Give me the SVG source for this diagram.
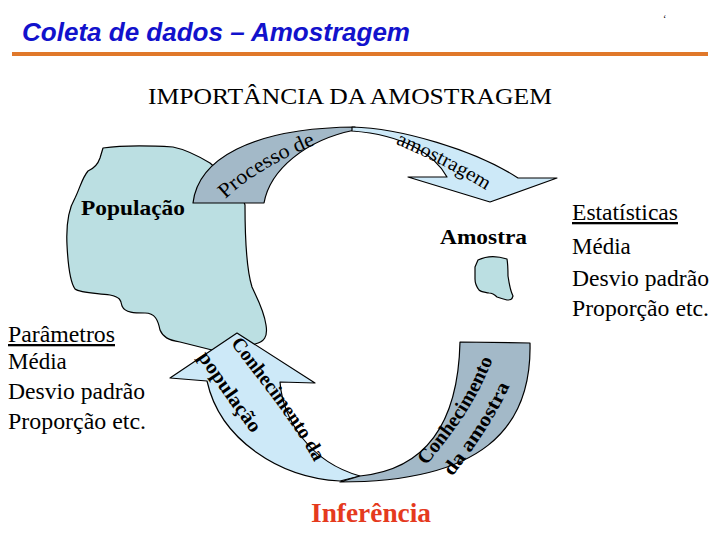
<svg xmlns="http://www.w3.org/2000/svg" width="720" height="540" viewBox="0 0 720 540">
<style>
.serif{font-family:"Liberation Serif","Times New Roman",serif;fill:#000}
.b{font-weight:bold}
.sh{stroke:#000;stroke-width:1.2;stroke-linejoin:round}
.blob{fill:#BBDFE2}
.lb{fill:#CDE9F8}
.gr{fill:#A3B9C8}
.list{font-size:23px}
</style>
<defs>
<path id="pProc" d="M213,212 Q250,168 335,137"/>
<path id="pAmo" d="M388,141 Q440,161 492,194"/>
<path id="pCon1" d="M228,340 C263,387 298,427 322,477"/>
<path id="pPop" d="M195,353 C213,379 236,413 262,447"/>
<path id="pCon2" d="M424,469 C445,441 478,407 498,344"/>
<path id="pDa" d="M450,480 C469,454 499,417 517,368"/>
</defs>
<rect width="720" height="540" fill="#fff"/>
<g id="title">
<text x="22" y="41" font-family="'Liberation Sans',Arial,sans-serif" font-size="26" font-weight="bold" font-style="italic" fill="#1212CC" textLength="388" lengthAdjust="spacingAndGlyphs">Coleta de dados – Amostragem</text>
<rect x="12" y="52" width="696" height="4" fill="#E0782A"/>
<text x="663" y="22" class="serif" font-size="10">‘</text>
</g>
<text x="350" y="104" class="serif" font-size="23" text-anchor="middle" textLength="404" lengthAdjust="spacingAndGlyphs">IMPORTÂNCIA DA AMOSTRAGEM</text>
<g id="population">
<path class="blob sh" d="M103,148 C125,145 155,146 173,147 C188,150 200,157 210,163 L240,190 L245,205 C245,235 246,268 252,287 C256,296 264,310 266,325 C268,337 264,342 255,344 L212,350 C200,347 188,344 180,342 C168,340 163,337 160,330 C158,320 155,313 145,313 C135,313 125,313 122,306 C121,300 120,297 110,295 C95,293 80,293 75,289 C70,282 68,265 67,245 C66,225 68,210 75,198 C80,188 82,178 88,171 C95,168 98,164 100,158 Z"/>
<text x="81" y="215" class="serif b" font-size="22" textLength="104" lengthAdjust="spacingAndGlyphs">População</text>
</g>
<g id="sample">
<path class="blob sh" d="M478,260 C488,255 498,256 507,259 C508,265 508,270 508,276 C509,283 510,290 513,296 C512,300 510,300 507,300 C503,299 500,298 497,297 C494,294 492,293 489,293 C485,292 481,292 479,290 C476,286 475,283 475,279 L475,267 Z"/>
<text x="440" y="244" class="serif b" font-size="22" textLength="87" lengthAdjust="spacingAndGlyphs">Amostra</text>
</g>
<g id="connectors">
<g id="arrow-processo">
<path class="gr sh" d="M193,203 C198,160 250,128 355,127 L355,130 C305,140 270,170 264,203 Z"/>
<text class="serif" font-size="21"><textPath href="#pProc" startOffset="18" textLength="106" lengthAdjust="spacingAndGlyphs">Processo de</textPath></text>
</g>
<g id="arrow-amostragem">
<path class="lb sh" d="M352,127 C400,128 475,150 518,178 L557,178 L490,202 L408,177 L447,177 C435,155 405,135 352,131 Z"/>
<text class="serif" font-size="20"><textPath href="#pAmo" startOffset="8" textLength="102" lengthAdjust="spacingAndGlyphs">amostragem</textPath></text>
</g>
<g id="arrow-conhecimento-populacao">
<path class="lb sh" d="M237,333 L315,383 L280,382 C283,420 310,462 360,476 L340,481 C280,478 220,440 207,381 L170,378 Z"/>
<text class="serif b" font-size="20"><textPath href="#pCon1" startOffset="4" textLength="146" lengthAdjust="spacingAndGlyphs">Conhecimento da</textPath></text>
<text class="serif b" font-size="20"><textPath href="#pPop" startOffset="5" textLength="94" lengthAdjust="spacingAndGlyphs">população</textPath></text>
</g>
<g id="arrow-conhecimento-amostra">
<path class="gr sh" d="M360,476 C420,470 458,430 460,342 L530,343 C532,430 480,482 340,482 Z"/>
<text class="serif b" font-size="20"><textPath href="#pCon2" startOffset="4" textLength="126" lengthAdjust="spacingAndGlyphs">Conhecimento</textPath></text>
<text class="serif b" font-size="20"><textPath href="#pDa" startOffset="4" textLength="108" lengthAdjust="spacingAndGlyphs">da amostra</textPath></text>
</g>
</g>
<g id="inferencia">
<text x="311" y="522" class="serif b" font-size="28" style="fill:#E53A1E" textLength="120" lengthAdjust="spacingAndGlyphs">Inferência</text>
</g>
<g id="parametros" class="serif list">
<text x="8" y="342" text-decoration="underline" textLength="107" lengthAdjust="spacingAndGlyphs">Parâmetros</text>
<text x="8" y="369">Média</text>
<text x="8" y="399" textLength="137" lengthAdjust="spacingAndGlyphs">Desvio padrão</text>
<text x="8" y="429" textLength="138" lengthAdjust="spacingAndGlyphs">Proporção etc.</text>
</g>
<g id="estatisticas" class="serif list">
<text x="572" y="220" text-decoration="underline" textLength="106" lengthAdjust="spacingAndGlyphs">Estatísticas</text>
<text x="572" y="254">Média</text>
<text x="572" y="286" textLength="137" lengthAdjust="spacingAndGlyphs">Desvio padrão</text>
<text x="572" y="316" textLength="137" lengthAdjust="spacingAndGlyphs">Proporção etc.</text>
</g>
</svg>
